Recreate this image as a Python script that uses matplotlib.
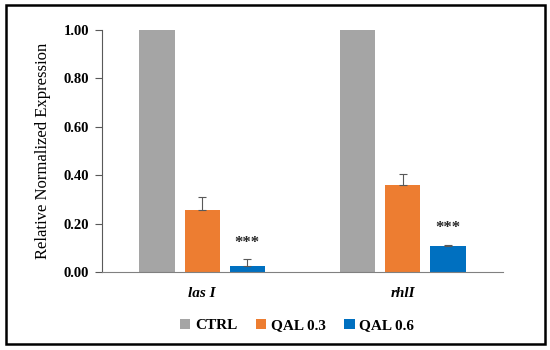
import matplotlib.pyplot as plt
import numpy as np
from matplotlib.patches import Rectangle

genes = ["las I", "rhlI"]
series = ["CTRL", "QAL 0.3", "QAL 0.6"]
values = {
    "CTRL": [1.00, 1.00],
    "QAL 0.3": [0.256, 0.360],
    "QAL 0.6": [0.025, 0.107],
}
errors = {
    "CTRL": [0.0, 0.0],
    "QAL 0.3": [0.052, 0.043],
    "QAL 0.6": [0.028, 0.006],
}
colors = {"CTRL": "#A5A5A5", "QAL 0.3": "#ED7D31", "QAL 0.6": "#0070C0"}
stars = ["***", "***"]
yticks = [0.0, 0.2, 0.4, 0.6, 0.8, 1.0]

plt.rcParams['font.family'] = ['Liberation Serif', 'DejaVu Serif']

fig = plt.figure(figsize=(5.5, 3.5), dpi=100)
ax = fig.add_axes([0.185, 0.223, 0.73, 0.691])

x = np.arange(len(genes))
w = 0.175
step = 0.225
for i, s in enumerate(series):
    pos = x + (i - 1) * step
    yerr = errors[s] if s != "CTRL" else None
    ax.bar(pos, values[s], w, color=colors[s], label=s,
           yerr=[np.zeros(len(genes)), errors[s]] if yerr is not None else None,
           error_kw=dict(ecolor="#595959", elinewidth=0.8, capsize=3, capthick=0.8))

# significance stars over QAL 0.6
for j in range(len(genes)):
    top = values["QAL 0.6"][j] + errors["QAL 0.6"][j]
    ax.text(x[j] + step, top + 0.035, stars[j], ha="center", va="bottom",
            fontsize=12, fontweight="bold", color="#262626")

ax.set_xlim(-0.5, 1.5)
ax.set_ylim(0, 1.0)
ax.set_yticks(yticks)
ax.set_yticklabels([f"{t:.2f}" for t in yticks], fontsize=10.5, fontweight="bold")
ax.set_xticks(x)
ax.set_xticklabels(genes, fontsize=11, fontweight="bold", style="italic")
ax.tick_params(axis="x", length=0, pad=11)
ax.tick_params(axis="y", length=5, color="#595959", width=0.8, pad=4)
ax.set_ylabel("Relative Normalized Expression", fontsize=12, labelpad=9)
for sp in ["top", "right"]:
    ax.spines[sp].set_visible(False)
ax.spines["left"].set_color("#595959")
ax.spines["bottom"].set_color("#808080")
ax.spines["left"].set_linewidth(0.8)
ax.spines["bottom"].set_linewidth(0.8)

fig.legend(loc="center", bbox_to_anchor=(0.54, 0.07), ncol=3, frameon=False,
           prop=dict(weight="bold", size=11), handlelength=0.7, handleheight=0.7,
           handletextpad=0.3, columnspacing=1.2)

fig.patches.append(Rectangle((0.01, 0.018), 0.98, 0.967, transform=fig.transFigure,
                             fill=False, edgecolor="black", linewidth=1.8))

fig.savefig("out.png", dpi=100)
